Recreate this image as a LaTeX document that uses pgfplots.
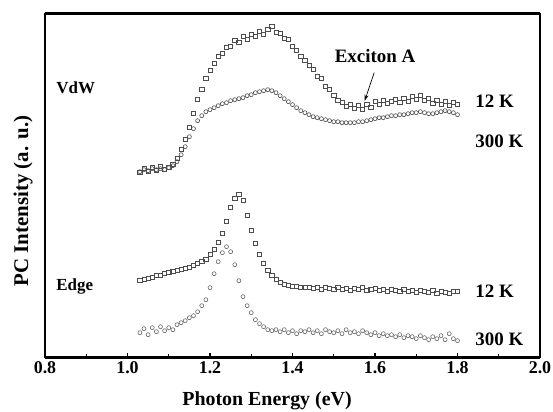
\documentclass[border=0pt]{standalone}
\usepackage{fontspec}
\setmainfont{Liberation Serif}
\usepackage{pgfplots}
\usepackage{pgfplotstable}
\pgfplotsset{compat=1.18}
\usetikzlibrary{arrows.meta}

\pgfplotstableread{
x y
1.03 185
1.04 189
1.05 186
1.06 190
1.07 187
1.08 191
1.09 188
1.10 190
1.11 193
1.12 199
1.13 208
1.14 218
1.15 230
1.16 244
1.17 258
1.18 268
1.19 279
1.20 287
1.21 294
1.22 301
1.23 304
1.24 310
1.25 311
1.26 317
1.27 315
1.28 321
1.29 318
1.30 323
1.31 321
1.32 326
1.33 323
1.34 328
1.35 331
1.36 325
1.37 324
1.38 319
1.39 318
1.40 311
1.41 307
1.42 301
1.43 297
1.44 292
1.45 288
1.46 281
1.47 279
1.48 271
1.49 268
1.50 262
1.51 257
1.52 255
1.53 251
1.54 253
1.55 249
1.56 252
1.57 248
1.58 253
1.59 250
1.60 256
1.61 253
1.62 257
1.63 254
1.64 256
1.65 258
1.66 255
1.67 259
1.68 256
1.69 261
1.70 258
1.71 262
1.72 257
1.73 259
1.74 254
1.75 257
1.76 253
1.77 256
1.78 252
1.79 255
1.80 253
}\vdwlow

\pgfplotstableread{
x y
1.03 186
1.04 188
1.05 187
1.06 189
1.07 188
1.08 189
1.09 188
1.10 190
1.11 192
1.12 196
1.13 203
1.14 211
1.15 221
1.16 229
1.17 237
1.18 242
1.19 246
1.20 248
1.21 250
1.22 252
1.23 254
1.24 255
1.25 257
1.26 258
1.27 259
1.28 260
1.29 262
1.30 263
1.31 265
1.32 266
1.33 267
1.34 268
1.35 267
1.36 265
1.37 262
1.38 259
1.39 256
1.40 253
1.41 250
1.42 247
1.43 245
1.44 243
1.45 241
1.46 240
1.47 239
1.48 238
1.49 237
1.50 236
1.51 236
1.52 235
1.53 235
1.54 235
1.55 235
1.56 236
1.57 236
1.58 237
1.59 238
1.60 239
1.61 240
1.62 240
1.63 241
1.64 242
1.65 242
1.66 243
1.67 243
1.68 244
1.69 245
1.70 245
1.71 246
1.72 245
1.73 244
1.74 244
1.75 245
1.76 246
1.77 247
1.78 246
1.79 245
1.80 243
}\vdwroom

\pgfplotstableread{
x y
1.03 77
1.04 78
1.05 79
1.06 80
1.07 82
1.08 82
1.09 84
1.10 85
1.11 86
1.12 87
1.13 88
1.14 89
1.15 90
1.16 92
1.17 94
1.18 96
1.19 98
1.20 103
1.21 108
1.22 115
1.23 124
1.24 136
1.25 150
1.26 159
1.27 163
1.28 157
1.29 142
1.30 127
1.31 114
1.32 103
1.33 94
1.34 87
1.35 82
1.36 78
1.37 75
1.38 73
1.39 72
1.40 71
1.41 71
1.42 70
1.43 70
1.44 70
1.45 69
1.46 70
1.47 68
1.48 70
1.49 69
1.50 68
1.51 70
1.52 68
1.53 69
1.54 67
1.55 69
1.56 68
1.57 70
1.58 67
1.59 68
1.60 69
1.61 67
1.62 68
1.63 66
1.64 68
1.65 67
1.66 66
1.67 68
1.68 66
1.69 67
1.70 65
1.71 67
1.72 66
1.73 65
1.74 67
1.75 64
1.76 66
1.77 65
1.78 64
1.79 66
1.80 66
}\edgelow

\pgfplotstableread{
x y
1.03 25
1.04 29
1.05 23
1.06 30
1.07 26
1.08 31
1.09 27
1.10 30
1.11 28
1.12 33
1.13 35
1.14 37
1.15 40
1.16 42
1.17 46
1.18 52
1.19 58
1.20 70
1.21 84
1.22 96
1.23 105
1.24 111
1.25 106
1.26 93
1.27 77
1.28 61
1.29 52
1.30 45
1.31 38
1.32 34
1.33 31
1.34 28
1.35 27
1.36 28
1.37 26
1.38 28
1.39 25
1.40 27
1.41 24
1.42 27
1.43 26
1.44 28
1.45 25
1.46 27
1.47 24
1.48 28
1.49 26
1.50 25
1.51 27
1.52 24
1.53 28
1.54 25
1.55 26
1.56 24
1.57 27
1.58 25
1.59 23
1.60 25
1.61 22
1.62 24
1.63 22
1.64 23
1.65 21
1.66 23
1.67 20
1.68 22
1.69 21
1.70 19
1.71 22
1.72 20
1.73 18
1.74 21
1.75 19
1.76 22
1.77 18
1.78 24
1.79 19
1.80 17
}\edgeroom

\begin{document}
\begin{tikzpicture}
\begin{axis}[
  at={(0,0)}, anchor=south west,
  width=495bp, height=344.2bp, scale only axis,
  xmin=0.8, xmax=2.0, ymin=0, ymax=344.2,
  xtick={0.8,1.0,1.2,1.4,1.6,1.8,2.0},
  minor xtick={0.9,1.1,1.3,1.5,1.7,1.9},
  ytick=\empty,
  xtick pos=left,
  tick align=inside,
  major tick length=5bp, minor tick length=3.5bp,
  every tick/.style={black, line width=1.3bp},
  separate axis lines,
  axis line style={line width=2.4bp},
  every outer x axis line/.append style={line width=2.4bp},
  every outer y axis line/.append style={line width=2.4bp},
  xticklabel style={font=\bfseries\fontsize{18}{18}\selectfont},
  /pgf/number format/.cd, fixed, fixed zerofill, precision=1, assume math mode=true,
  /pgfplots/.cd,
  clip=false,
]
\addplot[only marks, mark=square, mark size=2.1bp, black!70, mark options={line width=0.6bp}] table {\vdwlow};
\addplot[only marks, mark=o, mark size=2bp, black!70, mark options={line width=0.6bp}] table {\vdwroom};
\addplot[only marks, mark=square, mark size=2.1bp, black!70, mark options={line width=0.6bp}] table {\edgelow};
\addplot[only marks, mark=o, mark size=2bp, black!60, mark options={line width=0.6bp}] table {\edgeroom};

\node[anchor=west, font=\bfseries\fontsize{17}{17}\selectfont] at (axis cs:0.819,270) {VdW};
\node[anchor=west, font=\bfseries\fontsize{17}{17}\selectfont] at (axis cs:0.819,71) {Edge};
\node[anchor=west, font=\bfseries\fontsize{19}{19}\selectfont] at (axis cs:1.835,256) {12 K};
\node[anchor=west, font=\bfseries\fontsize{19}{19}\selectfont] at (axis cs:1.835,216) {300 K};
\node[anchor=west, font=\bfseries\fontsize{19}{19}\selectfont] at (axis cs:1.835,66) {12 K};
\node[anchor=west, font=\bfseries\fontsize{19}{19}\selectfont] at (axis cs:1.835,18) {300 K};
\node[font=\bfseries\fontsize{19}{19}\selectfont] at (axis cs:1.600,302) {Exciton A};
\draw[black, line width=0.7bp, -{Stealth[length=6bp,width=4bp]}] (axis cs:1.598,285) -- (axis cs:1.575,257);
\end{axis}
\node[rotate=90, font=\bfseries\fontsize{21}{21}\selectfont] at (-22bp,156.7bp) {PC Intensity (a. u.)};
\node[anchor=base, font=\bfseries\fontsize{20}{20}\selectfont] at (222bp,-48bp) {Photon Energy (eV)};
\pgfresetboundingbox
\path (-45bp,-54.3bp) rectangle (508bp,357.7bp);
\end{tikzpicture}
\end{document}
